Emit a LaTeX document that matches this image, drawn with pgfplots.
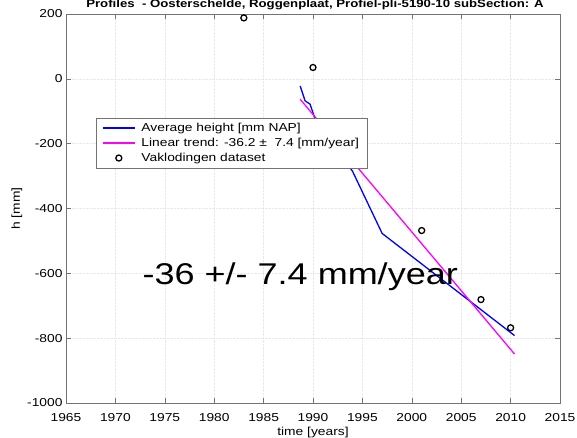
\documentclass[border=0pt]{standalone}
\usepackage{pgfplots}
\pgfplotsset{compat=1.18}
\usepackage{fontspec}
\setmainfont{Liberation Sans}[FakeStretch=1.2]
\definecolor{mag}{rgb}{1,0,1}
\definecolor{blu}{rgb}{0,0,1}
\begin{document}
\begin{tikzpicture}[x=1pt,y=1pt]
\begin{axis}[
  at={(66pt,35pt)}, anchor=south west,
  width=494pt, height=389pt, scale only axis,
  xmin=1965, xmax=2015, ymin=-1000, ymax=200,
  xtick={1965,1970,...,2015}, ytick={-1000,-800,...,200},
  /pgf/number format/assume math mode=true,
  /pgf/number format/1000 sep={},
  tick align=inside, xtick pos=both, ytick pos=both,
  xticklabel pos=bottom, yticklabel pos=left,
  major tick length=5pt,
  tick style={black!55, line width=0.6pt},
  axis line style={black!55, line width=0.7pt},
  grid=major, grid style={densely dotted, black!9, line width=0.6pt},
  ticklabel style={font=\fontsize{11.5}{13}\selectfont, text=black},
  xticklabel style={yshift=-7pt},
  label style={font=\fontsize{11.5}{13}\selectfont},
  xlabel={time [years]}, ylabel={h [mm]},
  xlabel style={yshift=1pt},
  ylabel style={yshift=-2pt},
  legend style={at={(0.0607,0.733)}, anchor=north west, draw=black!55,
    font=\fontsize{11.5}{13}\selectfont, row sep=1.2pt, inner xsep=6pt, inner ysep=3pt,
    /tikz/every odd column/.append style={column sep=4pt}},
  legend cell align=left,
  legend image code/.code={\draw[mark repeat=2,mark phase=2] plot coordinates {(0pt,0pt) (16pt,0pt) (32pt,0pt)};},
]
\addplot[blu, line width=1.3pt] coordinates {
  (1988.7,-22) (1989.2,-68) (1989.7,-78) (1990.2,-123) (1994.0,-285) (1997.0,-477) (2010.4,-792)};
\addlegendentry{Average height [mm NAP]}
\addplot[mag, line width=1.3pt] coordinates {(1988.7,-63) (2010.4,-849)};
\addlegendentry{Linear trend: -36.2 ±\ \ 7.4 [mm/year]}
\addplot[only marks, mark=o, mark size=3pt, black, line width=1.3pt] coordinates {
  (1983,188) (1990,35) (2001,-468) (2007,-681) (2010,-768)};
\addlegendentry{Vaklodingen dataset}
\end{axis}
\node[anchor=base, inner sep=0pt, font=\bfseries\fontsize{11}{13}\selectfont] at (315pt,430pt)
  {Profiles\ \ - Oosterschelde, Roggenplaat, Profiel-pli-5190-10 subSection: A};
\node[anchor=base east, inner sep=0pt, font=\fontsize{30}{32}\selectfont] at (458pt,153pt)
  {-36 +/- 7.4 mm/year};
\pgfresetboundingbox
\path[use as bounding box] (0,0) rectangle (577pt,438pt);
\end{tikzpicture}
\end{document}
